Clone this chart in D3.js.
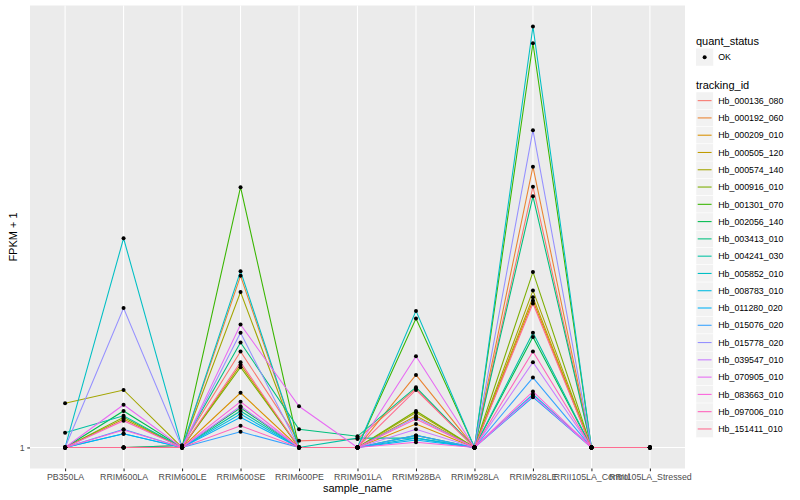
<!DOCTYPE html>
<html>
<head>
<meta charset="utf-8">
<script src="https://cdn.jsdelivr.net/npm/d3@7"></script>
<style>
  body { margin: 0; background: #fff; }
  text { font-family: "Liberation Sans", Arial, Helvetica, sans-serif; }
</style>
</head>
<body>
<div id="chart"></div>
<script>
// Samples on the x axis
const samples = ["PB350LA", "RRIM600LA", "RRIM600LE", "RRIM600SE", "RRIM600PE", "RRIM901LA",
                 "RRIM928BA", "RRIM928LA", "RRIM928LE", "RRII105LA_Control", "RRII105LA_Stressed"];

// Genes (tracking_id) and their ggplot hue colours
const trackingIds = ["Hb_000136_080", "Hb_000192_060", "Hb_000209_010", "Hb_000505_120", "Hb_000574_140",
                     "Hb_000916_010", "Hb_001301_070", "Hb_002056_140", "Hb_003413_010", "Hb_004241_030",
                     "Hb_005852_010", "Hb_008783_010", "Hb_011280_020", "Hb_015076_020", "Hb_015778_020",
                     "Hb_039547_010", "Hb_070905_010", "Hb_083663_010", "Hb_097006_010", "Hb_151411_010"];
const hueColors = ["#F8766D", "#EA8331", "#D89000", "#C09B00", "#A3A500", "#7CAE00", "#39B600", "#00BB4E",
                   "#00BF7D", "#00C1A3", "#00BFC4", "#00BAE0", "#00B0F6", "#35A2FF", "#9590FF", "#C77CFF",
                   "#E76BF3", "#FA62DB", "#FF62BC", "#FF6C91"];

// FPKM + 1 per gene, one value per sample (same order as samples)
const fpkmValues = [
  [1, 1, 1.01, 1.65, 1.035, 1.045, 1.36, 1, 3.90, 1, 1],
  [1, 1, 1, 2.45, 1, 1, 1.46, 1, 4.33, 1, 1],
  [1, 1, 1, 1.33, 1, 1, 1.13, 1, 2.15, 1, 1],
  [1, 1.16, 1, 1.54, 1, 1, 1.18, 1, 2.19, 1, 1],
  [1.26, 1.35, 1, 2.25, 1, 1, 1.20, 1, 2.27, 1, 1],
  [1, 1.17, 1, 1.52, 1, 1, 1.21, 1, 2.50, 1, 1],
  [1, 1, 1, 3.89, 1, 1, 1.96, 1, 8.25, 1, 1],
  [1, 1.21, 1, 1.23, 1, 1, 1.065, 1, 1.78, 1, 1],
  [1, 1, 1.01, 1.73, 1.10, 1.06, 1.37, 1, 3.71, 1, 1],
  [1.08, 1.18, 1, 1.21, 1, 1.05, 1.05, 1, 1.82, 1, 1],
  [1, 2.98, 1, 2.51, 1, 1, 2.04, 1, 9.0, 1, 1],
  [1, 1.074, 1, 1.19, 1, 1, 1.05, 1, 1.32, 1, 1],
  [1, 1.074, 1, 1.17, 1, 1, 1.04, 1, 1.30, 1, 1],
  [1, 1.10, 1, 1.085, 1, 1, 1.065, 1, 1.44, 1, 1],
  [1, 2.07, 1, 1.82, 1, 1, 1.17, 1, 5.24, 1, 1],
  [1, 1, 1, 1.24, 1, 1, 1.10, 1, 1.56, 1, 1],
  [1, 1.25, 1, 1.90, 1.24, 1, 1.61, 1, 1.31, 1, 1],
  [1, 1.095, 1, 1.27, 1, 1, 1.028, 1, 1.34, 1, 1],
  [1, 1.15, 1, 1.12, 1, 1, 1.16, 1, 1.65, 1, 1],
  [1, 1, 1, 1.56, 1, 1, 1.35, 1, 2.12, 1, 1]
];
const yTicks = [1];
const quantStatus = ["OK"];

// Chart dimensions
const margin = { top: 5.5, right: 115, bottom: 31.5, left: 30 },
      width = 800 - margin.left - margin.right,
      height = 500 - margin.top - margin.bottom;

const svg = d3.select("#chart")
  .append("svg")
  .attr("width", 800)
  .attr("height", 500);

const g = svg.append("g").attr("transform", `translate(${margin.left},${margin.top})`);

// Scales: discrete x like ggplot (0.6 expansion), log10 y with 5% expansion
const x = d3.scalePoint().domain(samples).range([0, width]).padding(0.6);
const allVals = fpkmValues.flat();
const lmin = Math.log10(d3.min(allVals)), lmax = Math.log10(d3.max(allVals));
const pad = (lmax - lmin) * 0.05;
const y = d3.scaleLog().domain([Math.pow(10, lmin - pad), Math.pow(10, lmax + pad)]).range([height, 0]);
const color = d3.scaleOrdinal().domain(trackingIds).range(hueColors);

// Panel background and grid
g.append("rect").attr("width", width).attr("height", height).attr("fill", "#EBEBEB");
g.selectAll(".vgrid").data(samples).enter().append("line")
  .attr("x1", d => x(d)).attr("x2", d => x(d))
  .attr("y1", 0).attr("y2", height)
  .attr("stroke", "#fff").attr("stroke-width", 1.1);
g.selectAll(".hgrid").data(yTicks).enter().append("line")
  .attr("x1", 0).attr("x2", width)
  .attr("y1", d => y(d)).attr("y2", d => y(d))
  .attr("stroke", "#fff").attr("stroke-width", 1.1);

// Lines, one per gene
const line = d3.line().x((d, i) => x(samples[i])).y(d => y(d));
fpkmValues.forEach((vals, k) => {
  g.append("path")
    .datum(vals)
    .attr("fill", "none")
    .attr("stroke", color(trackingIds[k]))
    .attr("stroke-width", 1.07)
    .attr("d", line);
});

// Points (quant_status = OK)
fpkmValues.forEach(vals => {
  g.selectAll(null).data(vals).enter().append("circle")
    .attr("cx", (d, i) => x(samples[i]))
    .attr("cy", d => y(d))
    .attr("r", 2)
    .attr("fill", "#000");
});

// Axes
const xAxis = g.append("g").attr("transform", `translate(0,${height})`)
  .call(d3.axisBottom(x).tickSize(2.75).tickSizeOuter(0).tickPadding(2.5));
const yAxis = g.append("g")
  .call(d3.axisLeft(y).tickValues(yTicks).tickFormat(d3.format("d")).tickSize(2.75).tickSizeOuter(0).tickPadding(2.5));
[xAxis, yAxis].forEach(a => {
  a.select(".domain").remove();
  a.selectAll(".tick line").attr("stroke", "#333333").attr("stroke-width", 1.07);
  a.selectAll(".tick text").attr("fill", "#4D4D4D").style("font-size", "8.8px")
    .style("font-family", "'Liberation Sans', Arial, sans-serif");
});

// Axis titles
svg.append("text")
  .attr("x", margin.left + width / 2).attr("y", 492)
  .attr("text-anchor", "middle")
  .style("font-size", "11px")
  .text("sample_name");
svg.append("text")
  .attr("transform", `translate(17,${margin.top + height / 2}) rotate(-90)`)
  .attr("text-anchor", "middle")
  .style("font-size", "11px")
  .text("FPKM + 1");

// Legends
const lx = 696, keySize = 17.28;
const legend = svg.append("g");
legend.append("text").attr("x", lx).attr("y", 44.5).style("font-size", "11px").text("quant_status");
quantStatus.forEach((q, i) => {
  const ky = 48.5 + i * keySize;
  legend.append("rect").attr("x", lx).attr("y", ky).attr("width", keySize).attr("height", keySize).attr("fill", "#F2F2F2");
  legend.append("circle").attr("cx", lx + keySize / 2).attr("cy", ky + keySize / 2).attr("r", 2).attr("fill", "#000");
  legend.append("text").attr("x", lx + keySize + 5).attr("y", ky + keySize / 2 + 3.2).style("font-size", "8.8px").text(q);
});

legend.append("text").attr("x", lx).attr("y", 89).style("font-size", "11px").text("tracking_id");
trackingIds.forEach((id, i) => {
  const ky = 92 + i * keySize;
  legend.append("rect").attr("x", lx).attr("y", ky).attr("width", keySize).attr("height", keySize)
    .attr("fill", "#F2F2F2").attr("stroke", "#fff").attr("stroke-width", 0.5);
  legend.append("line")
    .attr("x1", lx + 1.7).attr("x2", lx + keySize - 1.7)
    .attr("y1", ky + keySize / 2).attr("y2", ky + keySize / 2)
    .attr("stroke", color(id)).attr("stroke-width", 1.07);
  legend.append("text").attr("x", lx + keySize + 5).attr("y", ky + keySize / 2 + 3.2)
    .style("font-size", "8.8px").text(id);
});
</script>
</body>
</html>
